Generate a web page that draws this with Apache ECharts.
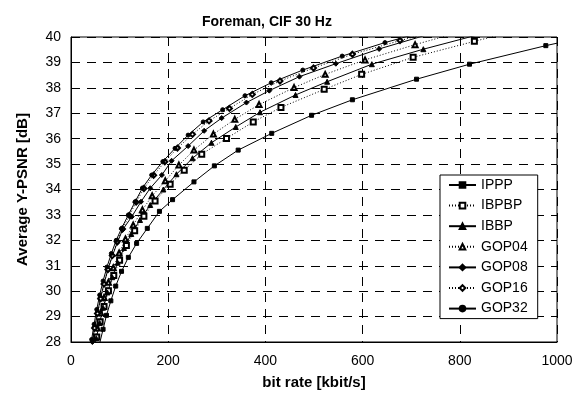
<!DOCTYPE html>
<html>
<head>
<meta charset="utf-8">
<script src="https://cdn.jsdelivr.net/npm/echarts@6/dist/echarts.min.js"></script>
<style>html,body{margin:0;padding:0;background:#fff}#c{width:580px;height:396px}</style>
</head>
<body>
<div id="c"></div>
<script>
var xTicks = [0, 200, 400, 600, 800, 1000];
var yTicks = [28, 29, 30, 31, 32, 33, 34, 35, 36, 37, 38, 39, 40];

var ipppX = [59, 66, 73, 82, 92, 104, 118, 135, 157, 182, 209, 253, 295, 344, 413, 495, 579, 711, 820, 977, 1130];
var ipppY = [27.95, 28.5, 29.05, 29.62, 30.2, 30.78, 31.33, 31.88, 32.47, 33.14, 33.6, 34.3, 34.93, 35.55, 36.21, 36.92, 37.53, 38.34, 38.93, 39.66, 40.3];

var ibpbpX = [47, 53, 60, 68, 77, 88, 100, 114, 131, 150, 173, 204, 233, 269, 320, 375, 432, 521, 598, 704, 830, 960];
var ibpbpY = [27.6, 28.2, 28.8, 29.4, 30.02, 30.62, 31.22, 31.8, 32.38, 32.95, 33.55, 34.21, 34.76, 35.39, 36.01, 36.66, 37.23, 37.94, 38.53, 39.2, 39.83, 40.45];

var ibbpX = [46, 52, 59, 66, 75, 85, 96, 109, 124, 142, 163, 190, 217, 250, 289, 339, 389, 462, 527, 619, 725, 840];
var ibbpY = [27.55, 28.15, 28.75, 29.35, 29.95, 30.55, 31.12, 31.7, 32.25, 32.8, 33.39, 34.0, 34.6, 35.23, 35.84, 36.46, 37.04, 37.72, 38.24, 38.93, 39.52, 40.1];

var gop04X = [48, 54, 61, 68, 77, 87, 99, 112, 128, 147, 167, 194, 222, 253, 293, 337, 387, 459, 523, 605, 708, 810];
var gop04Y = [27.95, 28.55, 29.15, 29.75, 30.35, 30.92, 31.5, 32.05, 32.6, 33.2, 33.75, 34.34, 34.96, 35.55, 36.18, 36.76, 37.34, 38.01, 38.53, 39.1, 39.7, 40.25];

var gop08X = [44, 49, 55, 61, 68, 76, 85, 95, 106, 125, 144, 163, 187, 207, 241, 274, 310, 361, 408, 470, 545, 634, 735];
var gop08Y = [28.0, 28.6, 29.18, 29.75, 30.3, 30.85, 31.38, 31.9, 32.41, 32.93, 33.52, 34.05, 34.57, 35.13, 35.71, 36.31, 36.81, 37.42, 37.89, 38.44, 38.95, 39.53, 40.1];

var gop16X = [43.5, 48.5, 54.5, 61, 68, 76, 85, 95, 106, 120, 134, 150, 170, 193, 219, 250, 284, 326, 373, 430, 499, 579, 677, 785];
var gop16Y = [27.95, 28.55, 29.12, 29.7, 30.28, 30.85, 31.4, 31.95, 32.45, 32.98, 33.5, 34.04, 34.56, 35.09, 35.63, 36.17, 36.7, 37.19, 37.74, 38.27, 38.78, 39.32, 39.86, 40.4];

var gop32X = [38, 42.5, 47.5, 53, 59, 66, 74, 83, 93, 104, 118, 132, 147, 166, 189, 214, 241, 272, 312, 358, 412, 477, 558, 646, 745];
var gop32Y = [27.5, 28.1, 28.7, 29.28, 29.85, 30.4, 30.95, 31.48, 32.0, 32.47, 33.0, 33.52, 34.06, 34.57, 35.1, 35.62, 36.14, 36.66, 37.14, 37.69, 38.2, 38.7, 39.25, 39.78, 40.3];

var FONT = '"Liberation Sans", Arial, sans-serif';

function pairs(xs, ys) { return xs.map(function (x, i) { return [x, ys[i]]; }); }

function mk(name, xs, ys, symbol, size, dotted) {
  return {
    name: name, type: 'line', data: pairs(xs, ys),
    symbol: symbol, symbolSize: size, showSymbol: true, clip: true,
    lineStyle: { color: '#000', width: 1, type: dotted ? [1, 2] : 'solid' },
    itemStyle: { color: '#000', borderColor: '#000', borderWidth: 1 },
    emphasis: { disabled: true }
  };
}

var series = [
  mk('IPPP', ipppX, ipppY, 'rect', 4, false),
  mk('IBPBP', ibpbpX, ibpbpY, 'emptyRect', 5, true),
  mk('IBBP', ibbpX, ibbpY, 'triangle', 5, false),
  mk('GOP04', gop04X, gop04Y, 'emptyTriangle', 5, true),
  mk('GOP08', gop08X, gop08Y, 'diamond', 5, false),
  mk('GOP16', gop16X, gop16Y, 'emptyDiamond', 5, true),
  mk('GOP32', gop32X, gop32Y, 'circle', 4, false)
];

var chart = echarts.init(document.getElementById('c'), null, { renderer: 'canvas' });
chart.setOption({
  animation: false,
  backgroundColor: '#fff',
  title: {
    text: 'Foreman, CIF 30 Hz', left: 197, top: 10,
    textStyle: { fontFamily: FONT, fontSize: 14, fontWeight: 'bold', color: '#000' }
  },
  grid: { left: 71, top: 37, width: 486, height: 305, show: true, borderColor: '#000', borderWidth: 1, backgroundColor: 'transparent' },
  legend: {
    orient: 'vertical', left: 440, top: 175,
    padding: [3, 10, 3, 8], itemWidth: 27, itemHeight: 7, itemGap: 6.6,
    backgroundColor: '#fff', borderColor: '#000', borderWidth: 1,
    textStyle: { fontFamily: FONT, fontSize: 14, color: '#000' },
    data: series.map(function (s) { return s.name; })
  },
  xAxis: {
    type: 'value', min: xTicks[0], max: xTicks[xTicks.length - 1], interval: 200,
    name: 'bit rate [kbit/s]', nameLocation: 'middle', nameGap: 33,
    nameTextStyle: { fontFamily: FONT, fontSize: 15, fontWeight: 'bold', color: '#000' },
    axisLine: { show: true, lineStyle: { color: '#000', width: 1 } },
    axisTick: { show: false },
    axisLabel: { margin: 12, fontFamily: FONT, fontSize: 14, color: '#000', formatter: function (v) { return String(v); } },
    splitLine: { show: true, lineStyle: { color: '#000', width: 1, type: [9, 7] } }
  },
  yAxis: {
    type: 'value', min: yTicks[0], max: yTicks[yTicks.length - 1], interval: 1,
    name: 'Average Y-PSNR [dB]', nameLocation: 'middle', nameGap: 41,
    nameTextStyle: { fontFamily: FONT, fontSize: 15, fontWeight: 'bold', color: '#000' },
    axisLine: { show: true, lineStyle: { color: '#000', width: 1 } },
    axisTick: { show: false },
    axisLabel: { margin: 10, fontFamily: FONT, fontSize: 14, color: '#000' },
    splitLine: { show: true, lineStyle: { color: '#000', width: 1, type: [9, 7] } }
  },
  series: series
});
</script>
</body>
</html>
